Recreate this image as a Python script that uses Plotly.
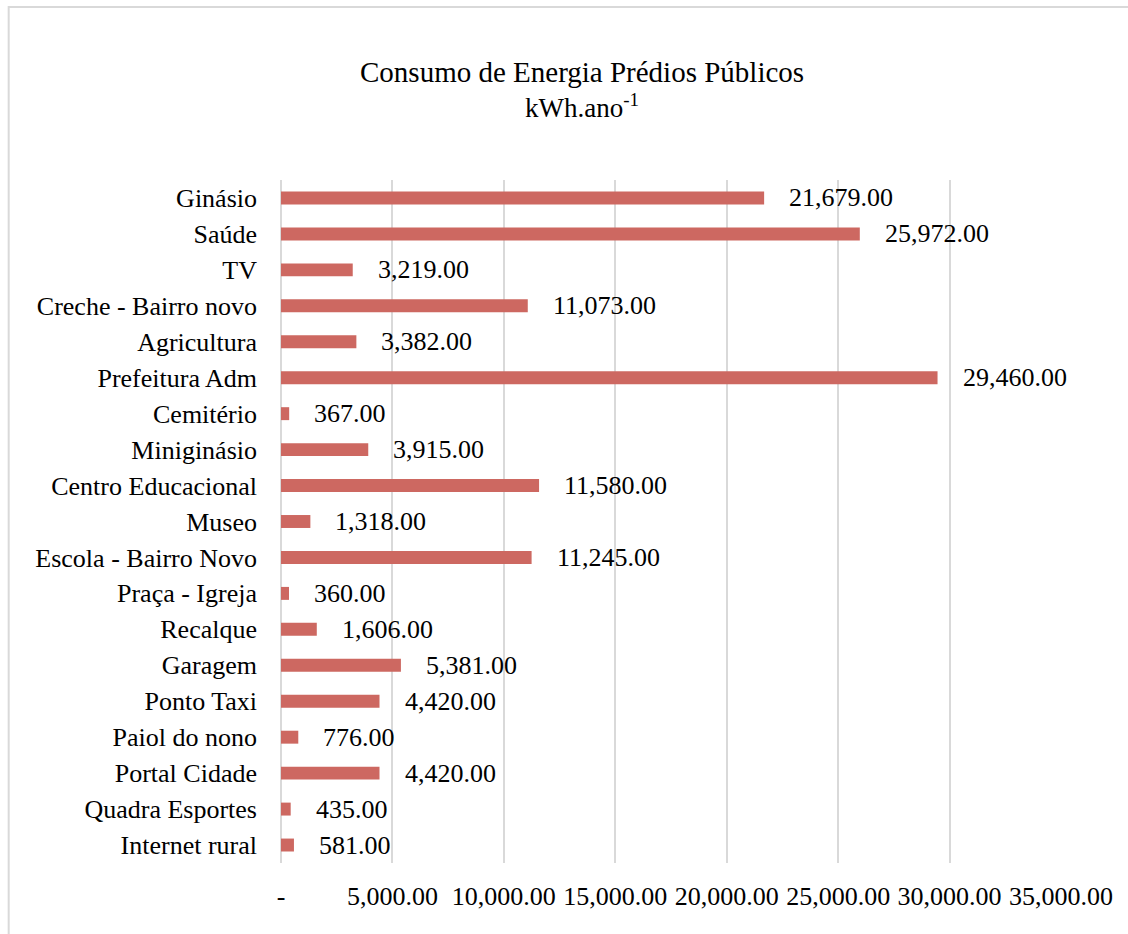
import plotly.graph_objects as go

categories = ["Ginásio", "Saúde", "TV", "Creche - Bairro novo", "Agricultura",
              "Prefeitura Adm", "Cemitério", "Miniginásio", "Centro Educacional",
              "Museo", "Escola - Bairro Novo", "Praça - Igreja", "Recalque",
              "Garagem", "Ponto Taxi", "Paiol do nono", "Portal Cidade",
              "Quadra Esportes", "Internet rural"]
values = [21679, 25972, 3219, 11073, 3382, 29460, 367, 3915, 11580, 1318,
          11245, 360, 1606, 5381, 4420, 776, 4420, 435, 581]
tick_vals = [0, 5000, 10000, 15000, 20000, 25000, 30000, 35000]
tick_text = ["-", "5,000.00", "10,000.00", "15,000.00", "20,000.00",
             "25,000.00", "30,000.00", "35,000.00"]
title_line1 = "Consumo de Energia Prédios Públicos"
title_line2 = "kWh.ano<sup>-1</sup>"

FONT = "Liberation Serif"
W, H = 1128, 934
L, R, T, B = 280.5, 67, 180, 71
PW = W - L - R
PH = H - T - B

def px_x(p):
    return (p - L) / PW

def px_y(p):
    return (H - B - p) / PH

fig = go.Figure()
fig.add_trace(go.Bar(
    x=values, y=categories, orientation="h",
    marker=dict(color="#CD6861", line=dict(width=0)),
    hoverinfo="x+y",
))

for c, v in zip(categories, values):
    fig.add_annotation(x=v, y=c, xref="x", yref="y", text=f"{v:,.2f}",
                       showarrow=False, xanchor="left", yanchor="middle",
                       xshift=23, font=dict(family=FONT, size=26, color="#000000"))

fig.add_annotation(x=px_x(582), y=px_y(72), xref="paper", yref="paper",
                   text=title_line1, showarrow=False, xanchor="center",
                   yanchor="middle", font=dict(family=FONT, size=29, color="#000000"))
fig.add_annotation(x=px_x(582), y=px_y(106), xref="paper", yref="paper",
                   text=title_line2, showarrow=False, xanchor="center",
                   yanchor="middle", font=dict(family=FONT, size=27, color="#000000"))

fig.add_shape(type="rect", xref="paper", yref="paper",
              x0=px_x(8), x1=px_x(1200), y0=px_y(7), y1=px_y(1000),
              line=dict(color="#D9D9D9", width=2), fillcolor="rgba(0,0,0,0)",
              layer="below")

fig.update_layout(
    width=W, height=H,
    margin=dict(l=L, r=R, t=T, b=B, pad=0),
    paper_bgcolor="white", plot_bgcolor="white",
    bargap=0.64, showlegend=False,
    font=dict(family=FONT, size=26, color="#000000"),
    xaxis=dict(range=[0, 35000], tickvals=tick_vals, ticktext=tick_text,
               showgrid=True, gridcolor="#D9D9D9", gridwidth=1.5,
               zeroline=True, zerolinecolor="#D9D9D9", zerolinewidth=1.5,
               showline=False, ticks="",
               ticklabelstandoff=15, tickfont=dict(family=FONT, size=26)),
    yaxis=dict(autorange="reversed", showgrid=False, zeroline=False,
               showline=False, ticks="", ticklabelstandoff=23,
               tickfont=dict(family=FONT, size=26)),
)

fig.write_html("out.html")
